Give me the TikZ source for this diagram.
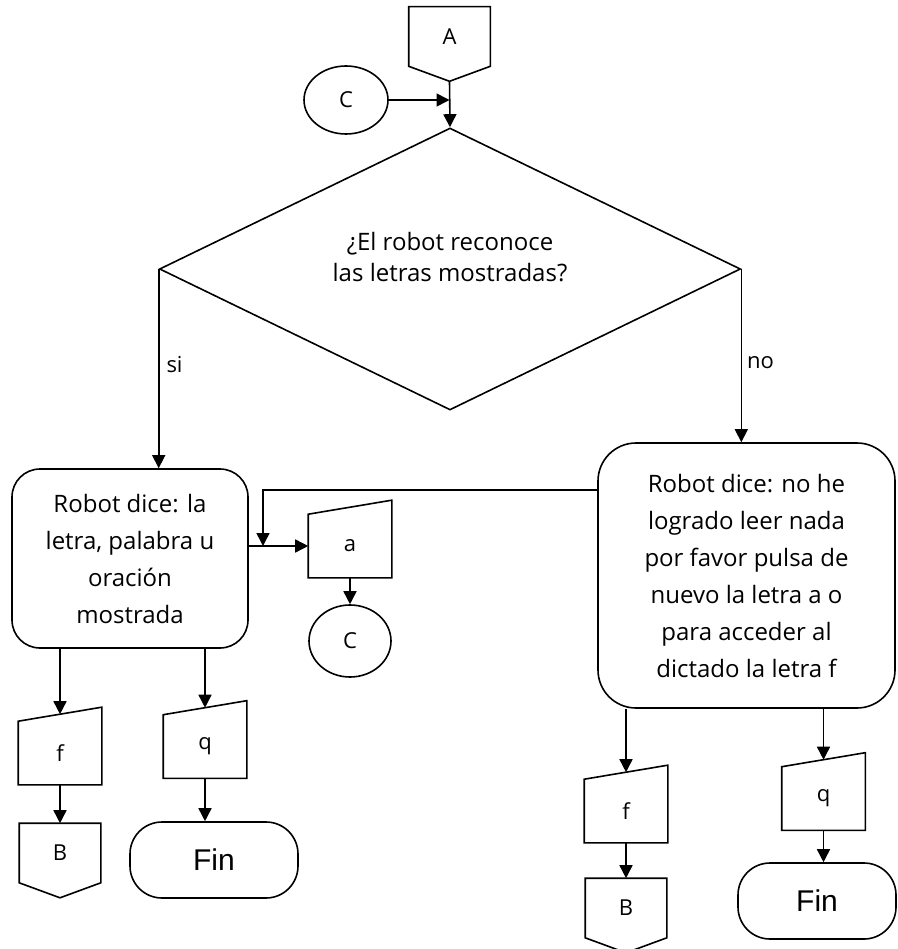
\documentclass[tikz,border=0pt]{standalone}
\usepackage{fontspec}
\setmainfont{Open Sans}
\newfontfamily\finfont{Liberation Sans}
\usetikzlibrary{arrows.meta, positioning, shapes.geometric}

\begin{document}
\begin{tikzpicture}[
      x=1pt, y=-1pt, line width=1.6pt, on grid, >={Triangle[length=13pt,width=13pt]},
      every node/.style={font=\fontsize{22}{28}\selectfont, inner sep=0pt},
      process/.style={draw, rectangle, align=center, font=\fontsize{24}{37}\selectfont},
      decision/.style={draw, diamond, aspect=2.06, minimum width=581pt, minimum height=282pt},
      question/.style={align=center, font=\fontsize{24}{31}\selectfont},
      conn/.style={draw, ellipse, minimum width=84pt, minimum height=68pt},
      manual/.style={minimum width=82pt, minimum height=62pt},
      offpage/.style={minimum width=80pt, minimum height=58pt},
      terminal/.style={draw, rounded corners=32pt, minimum width=168pt, minimum height=76pt,
          font=\finfont\fontsize{30}{36}\selectfont}
      ]
      \useasboundingbox (0,0) rectangle (897,949);

      \node[offpage]                  (A)    at (449.5,36.5)     {A};
      \coordinate                     (Atip) at ([yshift=-15pt]A.south);
      \node[conn]                     (C1)   at (346,100)        {C};
      \node[decision]                 (d)    at (450,269)        {};
      \node[question]                 (dq)   at (450,257)        {¿El robot reconoce\\las letras mostradas?};
      \node[process, rounded corners=28pt, minimum width=236pt, minimum height=179pt]
                                      (lb)   at (130,558.5)      {Robot dice: la\\letra, palabra u\\oración\\mostrada};
      \node[process, rounded corners=38pt, minimum width=297pt, minimum height=265pt]
                                      (rb)   at (746.5,575.5)    {Robot dice: no he\\logrado leer nada\\por favor pulsa de\\nuevo la letra a o\\para acceder al\\dictado la letra f};
      \node[manual]                   (a)    at (350,546)        {a};
      \node[conn, minimum width=82pt, minimum height=72pt]
                                      (C2)   [below=95pt of a]   {C};
      \node[manual]                   (fL)   at (60,753)         {f};
      \node[offpage]                  (BL)   [below=100pt of fL] {B};
      \node[manual]                   (qL)   at (205,746.5)      {q};
      \node[terminal]                 (finL) at (214,860)        {Fin};
      \node[manual]                   (fR)   at (626,811)        {f};
      \node[offpage]                  (BR)   [below=97pt of fR]  {B};
      \node[manual]                   (qR)   at (823.5,798.5)    {q};
      \node[terminal, minimum width=158pt]
                                      (finR) at (817,901)        {Fin};
      \coordinate                     (loop) at (263,490);

      \draw (A.north west) -- (A.north east) -- (A.south east) -- (Atip) -- (A.south west) -- cycle;
      \draw (BL.north west) -- (BL.north east) -- (BL.south east) -- ([yshift=-15pt]BL.south) -- (BL.south west) -- cycle;
      \draw (BR.north west) -- (BR.north east) -- (BR.south east) -- ([yshift=-15pt]BR.south) -- (BR.south west) -- cycle;
      \draw (a.south west) -- (a.north west) -- ([yshift=14pt]a.north east) -- (a.south east) -- cycle;
      \draw (fL.south west) -- (fL.north west) -- ([yshift=14pt]fL.north east) -- (fL.south east) -- cycle;
      \draw (qL.south west) -- (qL.north west) -- ([yshift=14pt]qL.north east) -- (qL.south east) -- cycle;
      \draw (fR.south west) -- (fR.north west) -- ([yshift=14pt]fR.north east) -- (fR.south east) -- cycle;
      \draw (qR.south west) -- (qR.north west) -- ([yshift=14pt]qR.north east) -- (qR.south east) -- cycle;

      \draw[->] (Atip) -- (d.north);
      \draw[->] (C1.east) -- (C1.east -| Atip);
      \draw[->] (d.west) -- node[pos=0.48, anchor=west, xshift=7pt] {si} (d.west |- lb.north);
      \draw[->] (d.east) -- node[pos=0.54, anchor=west, xshift=5pt] {no} (d.east |- rb.north);
      \draw[->] (rb.west |- loop) -- (loop) -- (loop |- a.west);
      \draw[->] (lb.east |- a.west) -- (a.west);
      \draw[->] (a.south) -- (C2.north);
      \draw[->] (lb.south -| fL) -- ([yshift=7pt]fL.north);
      \draw[->] (fL.south) -- (BL.north);
      \draw[->] (lb.south -| qL) -- ([yshift=7pt]qL.north);
      \draw[->] (qL.south) -- (qL.south |- finL.north);
      \draw[->] (rb.south -| fR) -- ([yshift=7pt]fR.north);
      \draw[->] (fR.south) -- (BR.north);
      \draw[->] (rb.south -| qR) -- ([yshift=7pt]qR.north);
      \draw[->] (qR.south) -- (qR.south |- finR.north);
    \end{tikzpicture}
\end{document}
